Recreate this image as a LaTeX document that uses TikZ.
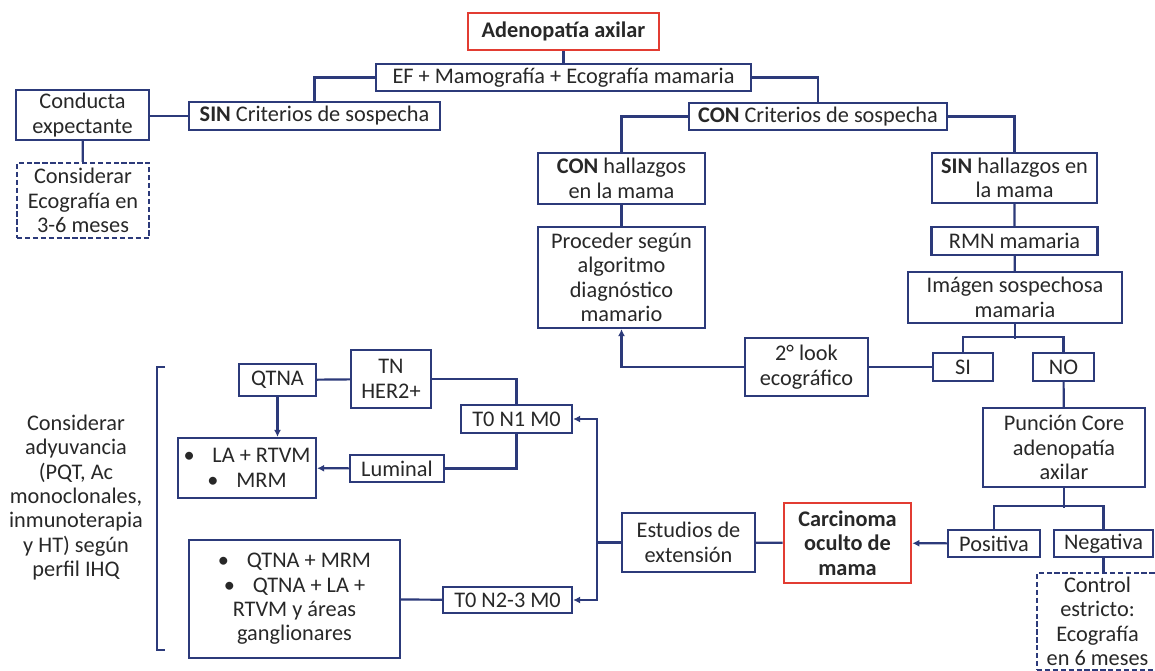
\documentclass[tikz,border=0pt]{standalone}
\usepackage{fontspec}
\setmainfont{Carlito}
\usetikzlibrary{arrows.meta}
\definecolor{azul}{RGB}{44,58,122}
\definecolor{rojo}{RGB}{226,60,50}
\definecolor{texto}{RGB}{40,40,40}

\begin{document}
\begin{tikzpicture}[
				x=0.02cm, y=-0.02cm,
				every node/.style={font=\fontsize{12.7}{13.9}\selectfont, text=texto, align=center, inner sep=0pt},
				caja/.style 2 args={draw=azul, line width=1.25pt, fill=white, minimum width=#1*0.02cm, minimum height=#2*0.02cm},
				cajaroja/.style 2 args={caja={#1}{#2}, draw=rojo, line width=1.5pt},
				punteada/.style 2 args={caja={#1}{#2}, dash pattern=on 3pt off 1.5pt},
				linea/.style={draw=azul, line width=1.25pt},
				flecha/.style={linea, -{Latex[length=4pt,width=4pt]}}
			]
			\useasboundingbox (0,0) rectangle (1155,670);
			\node[cajaroja={191}{37}] (adeno) at (563.5,31.5) {\textbf{Adenopatía axilar}};
			\node[caja={375}{27}] (ef) at (563.5,77.5) {EF + Mamografía + Ecografía mamaria};
			\node[caja={251}{28}] (sinCrit) at (314.5,116) {\textbf{SIN} Criterios de sospecha};
			\node[caja={133}{50}] (conducta) at (82.5,115) {Conducta\\expectante};
			\node[punteada={132}{75}] (considerar) at (83,200.5) {Considerar\\Ecografía en\\3-6 meses};
			\node[caja={258}{27}] (conCrit) at (818,116.5) {\textbf{CON} Criterios de sospecha};
			\node[caja={167}{51}] (conHall) at (621.5,178.5) {\textbf{CON} hallazgos\\en la mama};
			\node[caja={167}{101}] (proceder) at (621.5,277.5) {Proceder según\\algoritmo\\diagnóstico\\mamario};
			\node[caja={165}{50}] (sinHall) at (1014.5,178) {\textbf{SIN} hallazgos en\\la mama};
			\node[caja={166}{28}] (rmn) at (1014.5,241) {RMN mamaria};
			\node[caja={214}{51}] (imagen) at (1015,297.5) {Imágen sospechosa\\mamaria};
			\node[caja={60}{28}] (si) at (963,367) {SI};
			\node[caja={61}{28}] (no) at (1063.5,367) {NO};
			\node[caja={123}{58}] (look) at (806.5,367) {2° look\\ecográfico};
			\node[caja={162}{79}] (puncion) at (1064,447.5) {Punción Core\\adenopatía\\axilar};
			\node[caja={92}{27}] (positiva) at (994,543.5) {Positiva};
			\node[caja={99}{27}] (negativa) at (1103.5,543.5) {Negativa};
			\node[punteada={121}{97}] (control) at (1097.5,621.5) {Control\\estricto:\\Ecografía\\en 6 meses};
			\node[cajaroja={127}{80}] (carcinoma) at (847.5,543) {\textbf{Carcinoma}\\\textbf{oculto de}\\\textbf{mama}};
			\node[caja={133}{59}] (estudios) at (688.5,542.5) {Estudios de\\extensión};
			\node[caja={111}{28}] (tNuno) at (516.5,419) {T0 N1 M0};
			\node[caja={129}{26}] (tNdos) at (507.5,600) {T0 N2-3 M0};
			\node[caja={80}{58}] (tnHer) at (391,379) {TN\\HER2+};
			\node[caja={77}{32}] (qtna) at (277.5,380) {QTNA};
			\node[caja={94}{27}] (luminal) at (397,468.5) {Luminal};
			\node[caja={138}{60}] (laRtvm) at (247,468) {•\hspace{0.8em}LA + RTVM\\•\hspace{0.8em}MRM};
			\node[caja={211}{118}] (qtnaMrm) at (294.5,599) {•\hspace{0.8em}QTNA + MRM\\•\hspace{0.8em}QTNA + LA +\\RTVM y áreas\\ganglionares};
			\node (adyuv) at (76,497.5) {Considerar\\adyuvancia\\(PQT, Ac\\monoclonales,\\inmunoterapia\\y HT) según\\perfil IHQ};
			\coordinate (reparto) at (597,542.5);
			\draw[linea] (adeno) -- (ef);
			\draw[linea] (ef.west) -| (sinCrit.north);
			\draw[linea] (ef.east) -| (conCrit.north);
			\draw[linea] (conducta.east |- sinCrit.west) -- (sinCrit.west);
			\draw[linea] (conducta) -- (considerar);
			\draw[linea] (conCrit.west) -| (conHall.north);
			\draw[linea] (conCrit.east) -| (sinHall.north);
			\draw[linea] (conHall) -- (proceder);
			\draw[linea] (sinHall) -- (rmn) -- (imagen);
			\draw[linea] (imagen.south) -- ++(0,15);
			\draw[linea] (si.north) -- ++(0,-15) -| (no.north);
			\draw[linea] (look) -- (si);
			\draw[flecha] (look.west) -| (proceder.south);
			\draw[linea] (no) -- (puncion);
			\draw[linea] (puncion.south) -- ++(0,20);
			\draw[linea] (positiva.north) -- ++(0,-23) -| (negativa.north);
			\draw[flecha] (positiva) -- (carcinoma);
			\draw[linea] (negativa.south) -- (negativa.south |- control.north);
			\draw[linea] (carcinoma) -- (estudios);
			\draw[linea] (estudios.west) -- (reparto);
			\draw[flecha] (reparto) |- (tNuno.east);
			\draw[flecha] (reparto) |- (tNdos.east);
			\draw[linea] (tNuno.north) |- (tnHer.east);
			\draw[linea] (qtna) -- (tnHer);
			\draw[flecha] (qtna.south) -- (qtna.south |- laRtvm.north);
			\draw[linea] (tNuno.south) |- (luminal.east);
			\draw[flecha] (luminal) -- (laRtvm);
			\draw[linea] (tNdos) -- (qtnaMrm);
			\draw[linea] (165,367) -- (157,367) -- (157,650) -- (165,650);
		\end{tikzpicture}
\end{document}
